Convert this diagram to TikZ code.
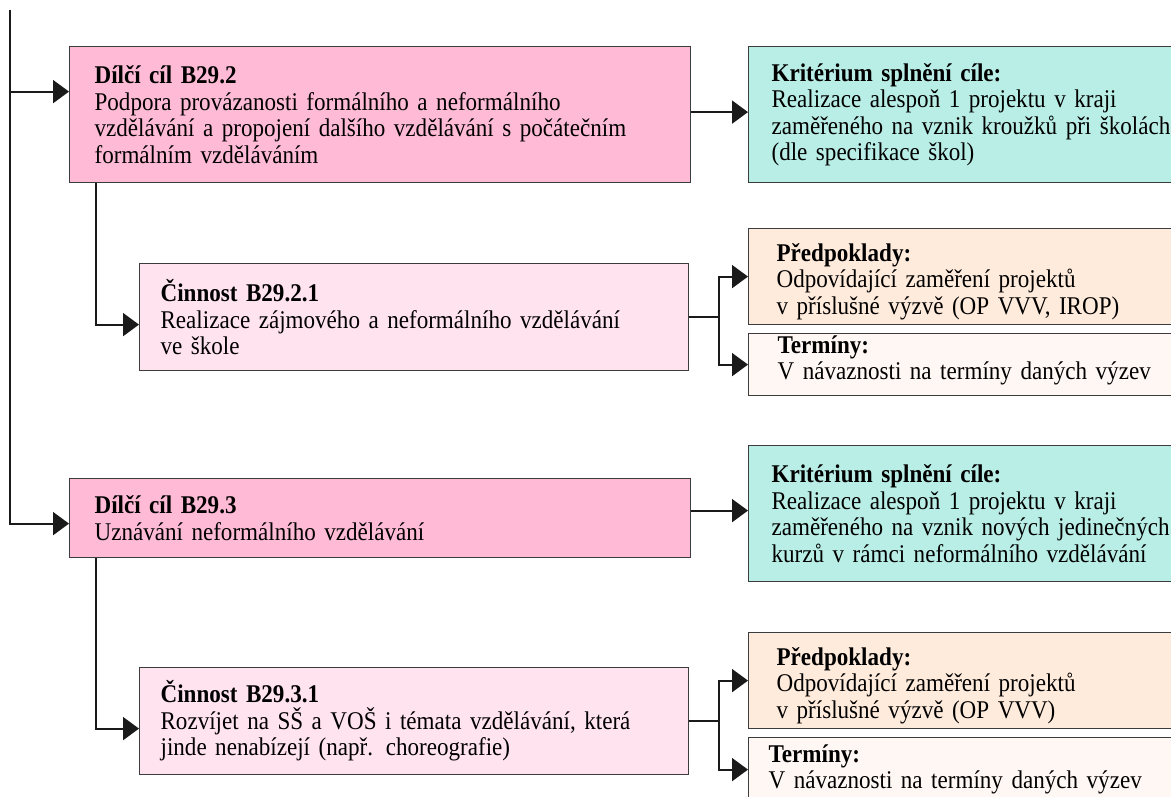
\documentclass[tikz,border=0pt]{standalone}
\usepackage{fontspec}
\setmainfont{Liberation Serif}[FakeStretch=0.905]
\usetikzlibrary{arrows.meta,calc}
\definecolor{linec}{HTML}{1A1A1A}
\definecolor{borderc}{HTML}{3C3C3C}
\definecolor{goalpink}{HTML}{FFBBD6}
\definecolor{actpink}{HTML}{FFE3EF}
\definecolor{critmint}{HTML}{B8EEE6}
\definecolor{prepeach}{HTML}{FFEBDC}
\definecolor{termcream}{HTML}{FFF7F3}
\newcommand\padtop{\rule{0pt}{28pt}}
\newcommand\padbot{\rule[-14pt]{0pt}{1pt}}
\begin{document}
\begin{tikzpicture}[x=1pt,y=-1pt,
  box/.style={draw=borderc, line width=1.2pt, anchor=north west, align=left,
    inner ysep=0pt, font=\fontsize{25.5}{26.5}\selectfont},
  goal/.style={box, fill=goalpink, minimum width=621pt, inner xsep=25pt, text width=571pt},
  act/.style={box, fill=actpink, minimum width=549pt, minimum height=107pt, inner xsep=21pt, text width=507pt},
  crit/.style={box, fill=critmint, minimum width=460pt, minimum height=136pt, inner xsep=23pt, text width=414pt},
  prep/.style={box, fill=prepeach, minimum width=460pt, minimum height=96pt, inner xsep=28pt, text width=404pt},
  term/.style={box, fill=termcream, minimum width=460pt},
  conn/.style={draw=linec, line width=2pt},
  arr/.style={conn, -{Triangle[length=16pt,width=23pt]}},
]
\useasboundingbox (0,0) rectangle (1171,796);

% boxes
\node[goal, minimum height=136pt] (b292) at (69,46) {\textbf{Dílčí cíl B29.2}\\Podpora provázanosti formálního a neformálního\\vzdělávání a propojení dalšího vzdělávání s počátečním\\formálním vzděláváním};
\node[crit] (k1) at (748,46) {\textbf{Kritérium splnění cíle:}\\Realizace alespoň 1 projektu v kraji\\zaměřeného na vznik kroužků při školách\\(dle specifikace škol)};
\node[act] (c1) at (139,263) {\textbf{Činnost B29.2.1}\\Realizace zájmového a neformálního vzdělávání\\ve škole};
\node[prep] (p1) at (748,228) {\padtop\textbf{Předpoklady:}\\Odpovídající zaměření projektů\\v příslušné výzvě (OP VVV, IROP)};
\node[term, minimum height=62pt, inner xsep=29pt, text width=402pt] (t1) at (748,333) {\textbf{Termíny:}\\V návaznosti na termíny daných výzev\padbot};

\node[goal, minimum height=79pt] (b293) at (69,478) {\textbf{Dílčí cíl B29.3}\\Uznávání neformálního vzdělávání};
\node[crit] (k2) at (748,445) {\textbf{Kritérium splnění cíle:}\\Realizace alespoň 1 projektu v kraji\\zaměřeného na vznik nových jedinečných\\kurzů v rámci neformálního vzdělávání};
\node[act] (c2) at (139,667) {\textbf{Činnost B29.3.1}\\Rozvíjet na SŠ a VOŠ i témata vzdělávání, která\\jinde nenabízejí (např. choreografie)};
\node[prep] (p2) at (748,632) {\padtop\textbf{Předpoklady:}\\Odpovídající zaměření projektů\\v příslušné výzvě (OP VVV)};
\node[term, minimum height=64pt, inner xsep=20pt, text width=420pt] (t2) at (748,737) {\textbf{Termíny:}\\V návaznosti na termíny daných výzev};

% main spine
\coordinate (top) at (10,10);
\draw[arr] (top) |- ([yshift=-5.5pt]b293.west);
\draw[arr] ([yshift=23pt]b292.west -| top) -- ([yshift=23pt]b292.west);

% goals to criteria
\draw[arr] ([yshift=2.5pt]k1.west -| b292.east) -- ([yshift=2.5pt]k1.west);
\draw[arr] ([yshift=3pt]k2.west -| b293.east) -- ([yshift=3pt]k2.west);

% goals to activities
\draw[arr] ([xshift=27pt]b292.south west) |- ([yshift=-7.5pt]c1.west);
\draw[arr] ([xshift=27pt]b293.south west) |- ([yshift=-7.5pt]c2.west);

% activities to prerequisites and terms
\coordinate (j1) at ([xshift=30pt]c1.east);
\draw[conn] (c1.east) -- (j1);
\draw[arr] (j1) |- (p1.west);
\draw[arr] (j1) |- (t1.west);
\coordinate (j2) at ([xshift=30pt]c2.east);
\draw[conn] (c2.east) -- (j2);
\draw[arr] (j2) |- (p2.west);
\draw[arr] (j2) |- (t2.west);
\end{tikzpicture}
\end{document}
